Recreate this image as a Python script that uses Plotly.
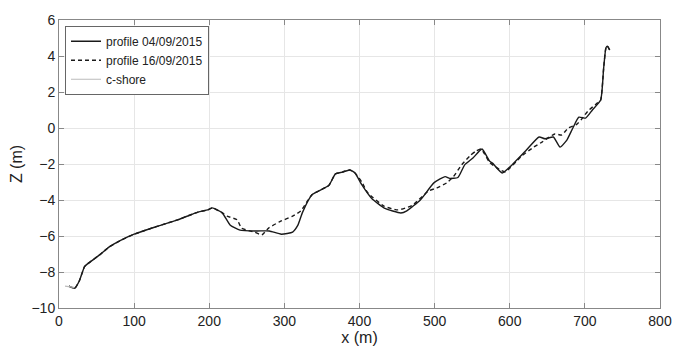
import plotly.graph_objects as go

# profile 04/09/2015 (solid)
x1 = [13, 21, 27, 34, 38, 54, 67, 84, 100, 128, 158, 185, 198, 204, 217, 228, 241, 263, 280, 296, 311, 318, 324, 337,
      359, 368, 377, 387, 394, 403, 416, 433, 455, 463, 481, 499, 514, 520, 531, 540, 551, 563, 573, 577, 590, 603,
      621, 639, 647, 658, 667, 676, 684, 692, 701, 710, 721, 725, 728, 730, 733]
z1 = [-8.78, -8.9, -8.5, -7.7, -7.55, -7.05, -6.6, -6.2, -5.9, -5.5, -5.1, -4.67, -4.55, -4.44, -4.7, -5.4, -5.67, -5.72,
      -5.72, -5.9, -5.78, -5.4, -4.7, -3.7, -3.2, -2.55, -2.45, -2.33, -2.5, -3.15, -3.9, -4.45, -4.72, -4.6, -4.0,
      -3.05, -2.7, -2.8, -2.75, -2.05, -1.67, -1.17, -1.83, -1.95, -2.5, -2.05, -1.28, -0.5, -0.6, -0.5, -1.06,
      -0.67, 0.0, 0.6, 0.55, 1.0, 1.55, 3.33, 4.45, 4.55, 4.33]

# profile 16/09/2015 (dashed)
x2 = [13, 21, 27, 34, 38, 54, 67, 84, 100, 128, 158, 185, 198, 204, 217, 224, 237, 243, 261, 270, 279, 294, 311, 322,
      330, 337, 359, 368, 377, 387, 394, 403, 411, 433, 451, 470, 492, 503, 516, 525, 536, 547, 555, 562, 573, 586,
      594, 616, 632, 643, 660, 669, 678, 689, 695, 704, 717, 721, 725, 728, 730, 733]
z2 = [-8.78, -8.9, -8.5, -7.7, -7.55, -7.05, -6.6, -6.2, -5.9, -5.5, -5.1, -4.67, -4.55, -4.44, -4.7, -4.9, -5.1, -5.56,
      -5.8, -5.94, -5.56, -5.2, -4.9, -4.6, -4.1, -3.7, -3.2, -2.55, -2.45, -2.33, -2.5, -3.0, -3.6, -4.35, -4.55,
      -4.3, -3.5, -3.33, -3.05, -2.7, -2.05, -1.55, -1.28, -1.17, -1.9, -2.3, -2.44, -1.55, -1.06, -0.78, -0.33,
      -0.39, 0.0, 0.2, 0.45, 0.94, 1.4, 1.55, 3.33, 4.45, 4.55, 4.33]

# c-shore
x3 = [8, 14, 20]
z3 = [-8.78, -8.8, -8.85]

x_ticks = [0, 100, 200, 300, 400, 500, 600, 700, 800]
y_ticks = [-10, -8, -6, -4, -2, 0, 2, 4, 6]

fig = go.Figure()
fig.add_trace(go.Scatter(x=x1, y=z1, mode="lines", name="profile 04/09/2015",
                         line=dict(color="#1a1a1a", width=1.4, shape="spline", smoothing=0.5)))
fig.add_trace(go.Scatter(x=x2, y=z2, mode="lines", name="profile 16/09/2015",
                         line=dict(color="#1a1a1a", width=1.4, dash="4px,3px", shape="spline", smoothing=0.5)))
fig.add_trace(go.Scatter(x=x3, y=z3, mode="lines", name="c-shore",
                         line=dict(color="#bbbbbb", width=1.2)))

axis_common = dict(showline=True, linecolor="#888888", linewidth=1, mirror="ticks",
                   ticks="inside", ticklen=5, tickcolor="#888888",
                   showgrid=True, gridcolor="#e6e6e6", gridwidth=1, zeroline=False,
                   tickfont=dict(family="Liberation Sans, Arial", size=14, color="#222222"))

fig.update_layout(
    width=684, height=356,
    margin=dict(l=59, r=14, t=20, b=46),
    paper_bgcolor="white", plot_bgcolor="white",
    xaxis=dict(range=[0, 800], tickvals=x_ticks, **axis_common,
               title=dict(text="x (m)", font=dict(family="Liberation Sans, Arial", size=16, color="#222222"),
                          standoff=4)),
    yaxis=dict(range=[-10, 6], tickvals=y_ticks, **axis_common,
               title=dict(text="Z (m)", font=dict(family="Liberation Sans, Arial", size=16, color="#222222"),
                          standoff=4)),
    legend=dict(x=0.01, y=0.98, xanchor="left", yanchor="top",
                bgcolor="white", bordercolor="#666666", borderwidth=1,
                font=dict(family="Liberation Sans, Arial", size=12, color="#222222"),
                tracegroupgap=0, itemwidth=30),
    showlegend=True,
)

fig.write_html("out.html")
